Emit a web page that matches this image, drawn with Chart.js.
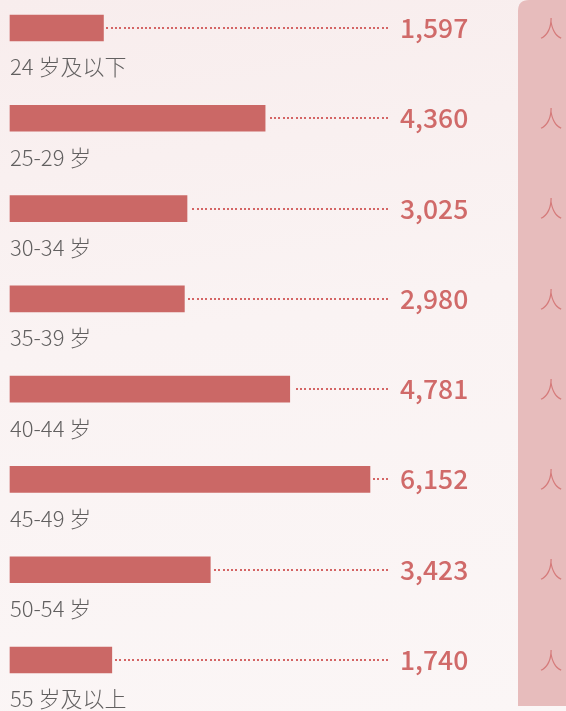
<!DOCTYPE html>
<html>
<head>
<meta charset="utf-8">
<script src="https://cdn.jsdelivr.net/npm/chart.js@4/dist/chart.umd.min.js"></script>
<style>
  html, body { margin: 0; padding: 0; }
  body {
    width: 566px; height: 711px; overflow: hidden;
    background: linear-gradient(172deg, #f8eded 0%, #faf3f3 45%, #fbf6f6 100%);
  }
  #wrap { position: relative; width: 566px; height: 711px; }
</style>
</head>
<body>
<div id="wrap"><canvas id="ageChart"></canvas></div>
<script>
// age groups and head counts
const ageLabels = ['24 岁及以下', '25-29 岁', '30-34 岁', '35-39 岁', '40-44 岁', '45-49 岁', '50-54 岁', '55 岁及以上'];
const ageCounts = [1597, 4360, 3025, 2980, 4781, 6152, 3423, 1740];
const unitLabel = '人';

const FONT = '"Noto Sans CJK SC", "Noto Sans", sans-serif';
const BAR_COLOR = '#cb6866';
const VALUE_COLOR = '#d06a69';

// right side unit panel
const panelPlugin = {
    id: 'unitPanel',
    beforeDraw(chart) {
        const ctx = chart.ctx;
        const x = 518, y = 0, w = 60, h = 706, r = 11;
        ctx.save();
        ctx.fillStyle = '#e7bcbc';
        ctx.beginPath();
        ctx.moveTo(x + r, y);
        ctx.lineTo(x + w, y);
        ctx.lineTo(x + w, y + h);
        ctx.lineTo(x, y + h);
        ctx.lineTo(x, y + r);
        ctx.quadraticCurveTo(x, y, x + r, y);
        ctx.closePath();
        ctx.fill();
        ctx.restore();
    }
};

// dotted leaders, values, category names under bars, unit
const rowTextPlugin = {
    id: 'rowText',
    afterDatasetsDraw(chart) {
        const ctx = chart.ctx;
        const meta = chart.getDatasetMeta(0);
        const right = chart.chartArea.right;
        ctx.save();
        meta.data.forEach((bar, i) => {
            // dotted line
            ctx.fillStyle = '#d46565';
            const y = Math.round(bar.y) - 1;
            for (let dx = right - 2; dx >= bar.x + 2; dx -= 4.3) {
                ctx.fillRect(Math.round(dx), y, 2, 2);
            }
            // value
            ctx.font = '500 26.5px ' + FONT;
            ctx.textAlign = 'left';
            ctx.textBaseline = 'middle';
            ctx.fillStyle = VALUE_COLOR;
            ctx.fillText(ageCounts[i].toLocaleString('en-US'), 400, bar.y);
            // category
            ctx.font = '300 22px ' + FONT;
            ctx.fillStyle = '#626060';
            ctx.fillText(ageLabels[i], 10, bar.y + 39);
            // unit
            ctx.font = '300 23px ' + FONT;
            ctx.textAlign = 'center';
            ctx.fillStyle = '#d57a7a';
            ctx.fillText(unitLabel, 551, bar.y);
        });
        ctx.restore();
    }
};

const ctx = document.getElementById('ageChart').getContext('2d');
const ageChart = new Chart(ctx, {
    type: 'bar',
    data: {
        labels: ageLabels,
        datasets: [{
            data: ageCounts,
            backgroundColor: BAR_COLOR,
            borderWidth: 0,
            barThickness: 26,
            clip: false
        }]
    },
    options: {
        indexAxis: 'y',
        responsive: true,
        maintainAspectRatio: false,
        animation: false,
        layout: {
            padding: { left: 10, right: 178, top: 28, bottom: 51 }
        },
        plugins: {
            legend: { display: false },
            tooltip: { enabled: false }
        },
        scales: {
            x: { display: false, min: 0, max: 6460 },
            y: { display: false, offset: false }
        }
    },
    plugins: [panelPlugin, rowTextPlugin]
});
</script>
</body>
</html>
